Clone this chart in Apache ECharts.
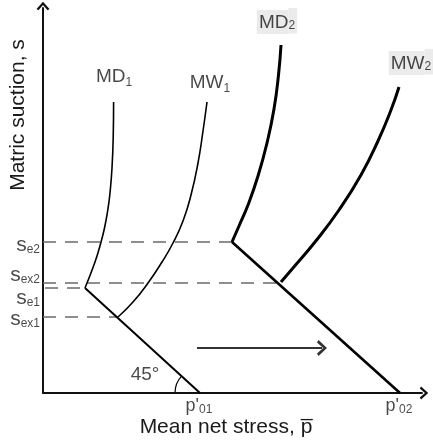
<!DOCTYPE html>
<html><head><meta charset="utf-8">
<script src="https://cdn.jsdelivr.net/npm/echarts@6/dist/echarts.min.js"></script>
<style>html,body{margin:0;padding:0;background:#fff}#c{width:433px;height:441px}</style>
</head><body><div id="c"></div>
<script>
// ---- data (schematic units: mean net stress p, matric suction s) ----
const pZero = [157, 357];                  // p'01, p'02
const pLabels = ['01', '02'];
const yieldLine1 = [[42, 105], [157, 0]];  // 45° line through p'01
const yieldLine2 = [[189, 151], [357, 0]]; // 45° line through p'02
const md1 = [[42,105],[52,131],[57.5,149],[61.5,165],[64.8,183],[67,200],[69,225],[70.2,255],[70.6,291]];
const mw1 = [[75,76],[90,91],[105,110],[119,131],[130,150],[140,172],[148,198],[155,230],[160,262],[164,291]];
const md2 = [[189,151],[196,167],[205,188],[215,217],[224,250],[231,284],[235.5,318],[238,348]];
const mw2 = [[238,111],[250,125],[272,151],[296,183],[318,218],[335,252],[348,283],[356,306]];
const suctionNames = ['e2', 'ex2', 'e1', 'ex1'];
const suctionLevels = [151, 110, 105, 76];
const suctionEnds = [189, 238, 42, 75];
const suctionStarts = [0, 0, 2, 0];
const shiftArrow = [[154, 45], [279, 45]];

const FONT = "'Liberation Sans', Arial, sans-serif";
const TXT = '#1a1a1a';
const chev = 'path://M10,0 L20,11 L17,13 L10,5 L3,13 L0,11 Z';

const chart = echarts.init(document.getElementById('c'));

const dashed = suctionLevels.map((s, i) => ({
  type: 'line', silent: true, symbol: 'none', animation: false,
  data: [[suctionStarts[i], s], [suctionEnds[i], s]],
  lineStyle: { color: '#6a6a6a', width: 1.5, type: [13, 9] }, z: 1
}));

function curve(data, w) {
  return { type: 'line', data: data, smooth: 0.5, symbol: 'none', animation: false,
    lineStyle: { color: '#000', width: w }, z: 3 };
}
const subRich = (fs) => ({
  m: { fontSize: fs, color: TXT, fontFamily: FONT, lineHeight: fs + 4 },
  s: { fontSize: Math.round(fs * 0.62), color: TXT, fontFamily: FONT, verticalAlign: 'bottom', padding: [fs * 0.45, 0, 0, 0], lineHeight: fs + 4 },
});
const subRichBg = (fs) => ({
  m: { fontSize: fs, color: TXT, fontFamily: FONT, lineHeight: fs + 4, backgroundColor: '#e6e6e6', padding: [3, 0, 2, 2] },
  s: { fontSize: Math.round(fs * 0.62), color: TXT, fontFamily: FONT, verticalAlign: 'bottom', lineHeight: fs + 4, backgroundColor: '#e6e6e6', padding: [fs * 0.45 + 3, 2, 2, 0] },
});

const curveLabels = [
  { value: [71, 316], label: { formatter: '{m|MD}{s|1}', rich: subRich(19) } },
  { value: [167, 310], label: { formatter: '{m|MW}{s|1}', rich: subRich(19) } },
  { value: [234, 371], label: { formatter: '{m|MD}{s|2}', rich: subRichBg(19) } },
  { value: [368, 330], label: { formatter: '{m|MW}{s|2}', rich: subRichBg(19) } },
  { value: [102, 18], label: { formatter: '{m|45°}', rich: subRich(19) } },
];
const sLabelY = [148, 118, 95, 74];
const sLabels = suctionNames.map((n, i) => ({
  value: [0, sLabelY[i]],
  label: { position: 'left', distance: 3, formatter: '{m|s}{s|' + n + '}', rich: {
    m: { fontSize: 21, color: TXT, fontFamily: FONT, lineHeight: 22 },
    s: { fontSize: 12, color: TXT, fontFamily: FONT, verticalAlign: 'bottom', padding: [9, 0, 0, 0], lineHeight: 22 } } }
}));
const pLabs = pZero.map((p, i) => ({
  value: [p, 0],
  label: { position: 'bottom', distance: 3, offset: [-1, 0], formatter: "{m|p'}{s|" + pLabels[i] + '}', rich: {
    m: { fontSize: 18, color: TXT, fontFamily: FONT, lineHeight: 20 },
    s: { fontSize: 12, color: TXT, fontFamily: FONT, verticalAlign: 'bottom', padding: [8, 0, 0, 0], lineHeight: 20 } } }
}));

chart.setOption({
  animation: false,
  grid: { left: 43, right: 11, top: 8, bottom: 48 },
  xAxis: { type: 'value', min: 0, max: 379,
    axisLine: { onZero: false, lineStyle: { color: '#111', width: 2 }, symbol: ['none', chev], symbolSize: [13, 11], symbolOffset: [0, 2] },
    axisTick: { show: false }, axisLabel: { show: false }, splitLine: { show: false } },
  yAxis: { type: 'value', min: 0, max: 385,
    axisLine: { onZero: false, lineStyle: { color: '#111', width: 2 }, symbol: ['none', chev], symbolSize: [13, 11], symbolOffset: [0, 2] },
    axisTick: { show: false }, axisLabel: { show: false }, splitLine: { show: false } },
  series: [
    ...dashed,
    { type: 'line', data: yieldLine1, symbol: 'none', lineStyle: { color: '#000', width: 2 }, z: 3 },
    { type: 'line', data: yieldLine2, symbol: 'none', lineStyle: { color: '#000', width: 2.6 }, z: 3 },
    curve(md1, 1.6), curve(mw1, 1.6), curve(md2, 3), curve(mw2, 3),
    { type: 'scatter', symbolSize: 0, data: curveLabels, label: { show: true, position: 'inside' }, z: 5 },
    { type: 'scatter', symbolSize: 0, data: sLabels, label: { show: true }, z: 5, clip: false },
    { type: 'scatter', symbolSize: 0, data: pLabs, label: { show: true }, z: 5, clip: false },
    { type: 'line', data: [], markLine: { silent: true, animation: false,
        lineStyle: { color: '#333', width: 2, type: 'solid' }, label: { show: false },
        data: [[{ coord: shiftArrow[0], symbol: 'none' }, { coord: shiftArrow[1], symbol: chev, symbolSize: [16, 10] }]] } }
  ]
});

const c0 = chart.convertToPixel({ gridIndex: 0 }, [pZero[0], 0]);
chart.setOption({
  graphic: [
    { type: 'arc', shape: { cx: c0[0], cy: c0[1], r: 25, startAngle: Math.PI, endAngle: Math.PI * 1.24, clockwise: true },
      style: { stroke: '#000', lineWidth: 1.2, fill: null } },
    { type: 'text', x: 226, y: 427, style: { text: 'Mean net stress, p\u0305', font: '21px ' + FONT, fill: TXT, textAlign: 'center', textVerticalAlign: 'middle' } },
    { type: 'text', x: 18, y: 115, rotation: Math.PI / 2, style: { text: 'Matric suction, s', font: '21px ' + FONT, fill: TXT, textAlign: 'center', textVerticalAlign: 'middle' } },
  ]
});
</script></body></html>
